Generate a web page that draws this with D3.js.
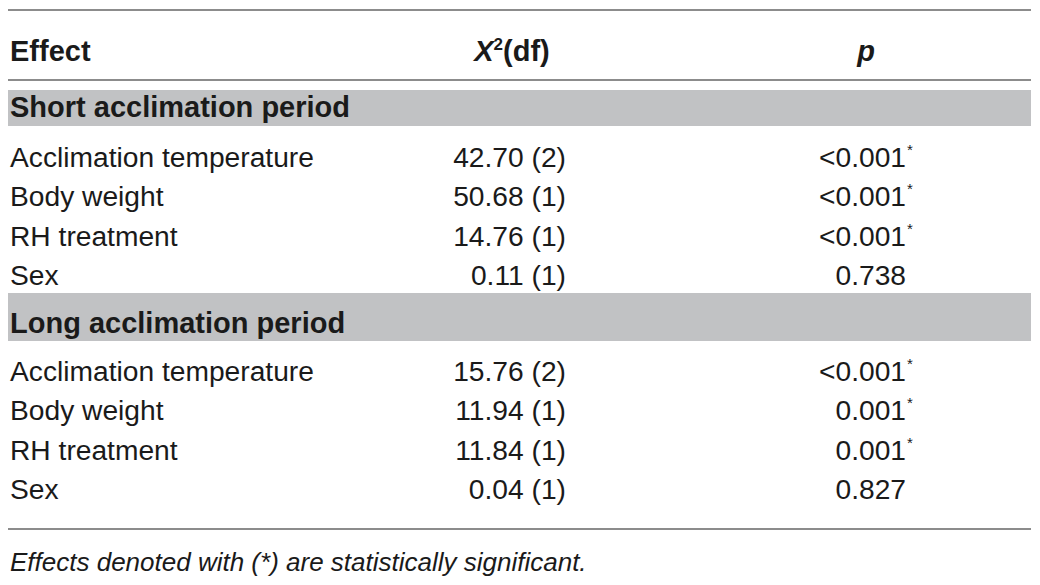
<!DOCTYPE html>
<html>
<head>
<meta charset="utf-8">
<script src="https://cdn.jsdelivr.net/npm/d3@7"></script>
<style>
  body { margin: 0; background: #fff; }
  svg text { font-family: "Liberation Sans", Arial, sans-serif; fill: #1a1a1a; }
</style>
</head>
<body>
<div id="chart"></div>
<script>
// table contents
const sections = ["Short acclimation period", "Long acclimation period"];
const effects = ["Acclimation temperature", "Body weight", "RH treatment", "Sex"];
const chiShort = [42.70, 50.68, 14.76, 0.11];
const dfShort = [2, 1, 1, 1];
const pShort = ["<0.001", "<0.001", "<0.001", "0.738"];
const sigShort = [true, true, true, false];
const chiLong = [15.76, 11.94, 11.84, 0.04];
const dfLong = [2, 1, 1, 1];
const pLong = ["<0.001", "0.001", "0.001", "0.827"];
const sigLong = [true, true, true, false];
const footnote = "Effects denoted with (*) are statistically significant.";

const width = 1040, height = 585;
const left = 8, right = 1031;

const svg = d3.select("#chart").append("svg")
  .attr("width", width)
  .attr("height", height);

// column anchors
const colX = d3.scaleOrdinal()
  .domain(["effect", "chi", "p"])
  .range([10, 566, 906]);

const rowY = d3.scaleLinear().domain([0, 3]);

function rule(y) {
  svg.append("line")
    .attr("x1", left).attr("x2", right)
    .attr("y1", y).attr("y2", y)
    .attr("stroke", "#8c8c8c")
    .attr("stroke-width", 2);
}

rule(10);
rule(80);
rule(529);

// header
const head = svg.append("g").attr("font-weight", "bold").attr("font-size", 29);
head.append("text").attr("x", colX("effect")).attr("y", 61).text("Effect");
const chiHead = head.append("text").attr("x", 512).attr("y", 61).attr("text-anchor", "middle");
chiHead.append("tspan").attr("font-style", "italic").text("X");
chiHead.append("tspan").attr("font-size", 17).attr("dy", -11).text("2");
chiHead.append("tspan").attr("dy", 11).text("(df)");
head.append("text").attr("x", 866).attr("y", 61).attr("text-anchor", "middle")
  .attr("font-style", "italic").text("p");

const blocks = [
  {name: sections[0], band: [90, 126], label: 117, rows: [167, 285], chi: chiShort, df: dfShort, p: pShort, sig: sigShort},
  {name: sections[1], band: [293, 341], label: 333, rows: [381, 499], chi: chiLong, df: dfLong, p: pLong, sig: sigLong}
];

blocks.forEach(b => {
  svg.append("rect")
    .attr("x", left).attr("width", right - left)
    .attr("y", b.band[0]).attr("height", b.band[1] - b.band[0])
    .attr("fill", "#c1c2c4");
  svg.append("text")
    .attr("x", colX("effect"))
    .attr("y", b.label)
    .attr("font-size", 29).attr("font-weight", "bold")
    .attr("fill", "#111")
    .text(b.name);

  rowY.range(b.rows);
  const g = svg.append("g").attr("font-size", 28.2);
  effects.forEach((e, i) => {
    const y = rowY(i);
    g.append("text").attr("x", colX("effect")).attr("y", y).text(e);
    g.append("text").attr("x", colX("chi")).attr("y", y).attr("text-anchor", "end")
      .text(d3.format(".2f")(b.chi[i]) + " (" + b.df[i] + ")");
    g.append("text").attr("x", colX("p")).attr("y", y).attr("text-anchor", "end").text(b.p[i]);
    if (b.sig[i]) {
      g.append("text").attr("x", colX("p") + 1).attr("y", y - 12)
        .attr("font-size", 15).attr("fill", "#666").text("*");
    }
  });
});

svg.append("text")
  .attr("x", 10).attr("y", 571)
  .attr("font-size", 26).attr("font-style", "italic")
  .text(footnote);
</script>
</body>
</html>
